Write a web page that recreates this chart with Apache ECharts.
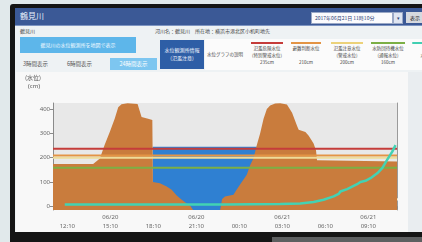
<!DOCTYPE html>
<html>
<head>
<meta charset="utf-8">
<script src="https://cdn.jsdelivr.net/npm/echarts@6/dist/echarts.min.js"></script>
<style>
html,body{margin:0;padding:0;width:422px;height:242px;overflow:hidden;background:#e1e9eb;font-family:"Noto Sans CJK JP","Noto Sans",sans-serif;}
.a{position:absolute;white-space:nowrap;}
#bezel{left:10px;top:4px;width:440px;height:260px;background:#151515;border-radius:3px;}
#screen{left:15px;top:8px;width:420px;height:224px;background:#eef2f4;overflow:hidden;}
#head{left:0;top:0;width:420px;height:17px;background:#3b5996;border-bottom:1px solid #7e95c2;}
#title{left:5px;top:2px;font-size:8px;color:#e8eefa;line-height:12px;}
#date{left:296px;top:4px;width:80px;height:10px;background:#fbfbfd;border:1px solid #9aa8c6;font-size:5px;line-height:10px;color:#2d3f74;text-indent:3px;}
#drop{left:378px;top:4px;width:8px;height:10px;background:#dfe5f1;border:1px solid #9aa8c6;font-size:5px;line-height:10px;text-align:center;color:#2d3f74;}
#go{left:391px;top:4px;width:30px;height:11px;background:#d6d9df;font-size:5px;line-height:11px;color:#222;text-indent:4px;}
.small{font-size:5px;line-height:6px;color:#444;}
#mapbtn{left:5px;top:29px;width:116px;height:16px;background:#5db6ea;color:#f2faff;font-size:5px;line-height:16px;text-align:center;}
.tab{top:50px;height:12px;font-size:5.5px;line-height:12px;color:#555;}
#tab3{left:95px;width:47px;background:#7dc6f0;color:#fff;text-align:center;}
#info{left:145px;top:32px;width:44px;height:29px;background:#2e5ea6;color:#f4f7ff;font-size:5px;line-height:8px;text-align:center;padding-top:6px;box-sizing:border-box;}
#legend{left:190px;top:31px;width:232px;height:31px;background:#fbfbfb;}
.lg{position:absolute;top:3px;text-align:center;font-size:4.5px;line-height:7px;color:#444;}
.lg i{display:block;height:2px;margin:0 2px 1px 2px;}
#panel{left:1px;top:64px;width:392px;height:160px;background:#f8f8f8;}
#side{left:393px;top:64px;width:30px;height:160px;background:#e9edf0;}
#chart{left:1px;top:64px;width:392px;height:159px;}
#stand{left:272px;top:237px;width:150px;height:5px;background:#5d5f60;}
</style>
</head>
<body>
<div class="a" id="bezel"></div>
<div class="a" id="stand"></div>
<div class="a" id="screen">
  <div class="a" id="head"></div>
  <div class="a" id="title">鶴見川</div>
  <div class="a" id="date">2017年06月21日 11時10分</div>
  <div class="a" id="drop">▾</div>
  <div class="a" id="go">表示</div>
  <div class="a small" style="left:5px;top:20px;">鶴見川</div>
  <div class="a small" style="left:140px;top:20px;">河川名：鶴見川　所在地：横浜市港北区小机町地先</div>
  <div class="a" id="mapbtn">鶴見川の水位観測所を地図で表示</div>
  <div class="a tab" style="left:8px;">3時間表示</div>
  <div class="a tab" style="left:52px;">6時間表示</div>
  <div class="a tab" id="tab3">24時間表示</div>
  <div class="a" id="info">水位観測所情報<br>(氾濫注意)</div>
  <div class="a" id="legend">
    <div class="lg" style="left:2px;top:12px;width:36px;">水位グラフの説明</div>
    <div class="lg" style="left:44px;width:36px;"><i style="background:#c53c3a"></i>氾濫危険水位<br>(特別警戒水位)<br>235cm</div>
    <div class="lg" style="left:84px;width:34px;"><i style="background:#e39445"></i>避難判断水位<br>&nbsp;<br>210cm</div>
    <div class="lg" style="left:124px;width:36px;"><i style="background:#ecd27a"></i>氾濫注意水位<br>(警戒水位)<br>200cm</div>
    <div class="lg" style="left:164px;width:38px;"><i style="background:#7caf45"></i>水防団待機水位<br>(通報水位)<br>160cm</div>
    <div class="lg" style="left:205px;width:30px;"><i style="background:#41cfb2;border-radius:2px;"></i>&nbsp;<br>水位</div>
  </div>
  <div class="a" id="side"></div>
  <div class="a" id="panel"></div>
  <div class="a" id="chart"></div>
</div>
<script>
// hours counted from 06/20 11:10
var xTickHours = [1, 4, 7, 10, 13, 16, 19, 22];
var xTickLabels = ['\n12:10', '06/20\n15:10', '\n18:10', '06/20\n21:10', '\n00:10', '06/21\n03:10', '\n06:10', '06/21\n09:10'];
var yTickValues = [0, 100, 200, 300, 400];

// brown area
var groundHours = [0, 2.8, 2.9, 3.27, 3.6, 3.96, 4.31, 4.55, 4.78, 5.2, 5.9, 6.18, 6.76, 6.93, 6.97, 7.46, 7.93, 8.28, 8.63, 8.98, 9.33, 9.6, 9.77,
  11.66, 11.8, 12.0, 12.59, 12.83, 13.17, 13.52, 13.76, 13.99, 14.22, 14.45, 14.69, 14.92, 15.15, 15.5, 15.85, 16.32, 16.68, 17.03, 17.14,
  17.61, 17.84, 18.18, 18.35, 18.42, 18.5, 24];
var groundLevels = [174, 174, 180, 197, 252, 306, 361, 408, 420, 424, 421, 367, 358, 355, 100, 95, 82, 68, 45, 27, 12, 0, -15,
  -15, 30, 41, 48, 70, 100, 130, 170, 198, 252, 300, 360, 400, 415, 423, 424, 419, 385, 330, 315,
  306, 290, 258, 230, 190, 184, 184];

// blue area
var poolHours = [6.95, 14.3];
var poolLevels = [245, 245];

// cyan line
var waterHours = [0.82, 6, 12, 15.85, 17.25, 18.18, 18.88, 19.58, 19.93, 20.05, 20.52, 21.22, 21.45, 21.8, 22.15, 22.62, 22.97, 23.31, 23.66, 23.9];
var waterLevels = [8, 8, 8, 10, 12, 18, 27, 41, 51, 61, 71, 91, 100, 105, 116, 136, 157, 191, 224, 252];

// reference levels
var levelNames = ['氾濫危険水位', '避難判断水位', '氾濫注意水位', '水防団待機水位'];
var levelValues = [237, 209, 200, 159];
var levelColors = ['#c53c3a', '#e39445', '#eedc9a', '#7caf45'];
var bandRange = [174, 207];

function zip(xs, ys){
    var out = [];
    for(var i = 0; i < xs.length; i++){
        out.push([xs[i], ys[i]]);
    }
    return out;
}

var chart = echarts.init(document.getElementById('chart'));

var series = [
    {
        type: 'line', stack: 'band', silent: true, symbol: 'none',
        data: [[0, bandRange[0]], [24, bandRange[0]]],
        lineStyle: {opacity: 0}
    },
    {
        type: 'line', stack: 'band', silent: true, symbol: 'none',
        data: [[0, bandRange[1] - bandRange[0]], [24, bandRange[1] - bandRange[0]]],
        lineStyle: {opacity: 0},
        areaStyle: {color: '#f8f0d8', opacity: 1}
    },
    {
        type: 'line', silent: true, symbol: 'none',
        data: zip(poolHours, poolLevels),
        lineStyle: {width: 0},
        areaStyle: {color: '#2f80d2', opacity: 1, origin: 'start'}
    },
    {
        type: 'line', silent: true, symbol: 'none',
        data: zip(groundHours, groundLevels),
        lineStyle: {width: 0},
        areaStyle: {color: '#c97c3d', opacity: 1, origin: 'start'}
    }
];

for(var i = 0; i < levelValues.length; i++){
    series.push({
        name: levelNames[i], type: 'line', silent: true, symbol: 'none',
        data: [[0, levelValues[i]], [24, levelValues[i]]],
        lineStyle: {color: levelColors[i], width: 2}
    });
}

series.push({
    name: '水位', type: 'line', silent: true, symbol: 'none',
    data: zip(waterHours, waterLevels),
    lineStyle: {color: '#43d2b3', width: 2.5}
});

var labelFont = {color: '#666', fontSize: 6, fontFamily: 'Noto Sans'};

chart.setOption({
    animation: false,
    grid: {left: 37, right: 11, top: 31, bottom: 21, show: true, backgroundColor: '#e8e8e8', borderWidth: 0},
    graphic: [
        {type: 'text', left: 9, top: 3, style: {text: '(水位)', fill: '#555', fontSize: 6, fontFamily: 'Noto Sans CJK JP'}},
        {type: 'text', left: 12, top: 11, style: {text: '(cm)', fill: '#555', fontSize: 6, fontFamily: 'Noto Sans'}}
    ],
    xAxis: {
        type: 'value', min: 0, max: 24, interval: 1,
        axisLine: {lineStyle: {color: '#8a8a8a'}},
        axisTick: {length: 3, lineStyle: {color: '#8a8a8a'}},
        splitLine: {show: false},
        axisLabel: Object.assign({
            customValues: xTickHours, margin: 3, lineHeight: 9,
            formatter: function(v){
                var k = xTickHours.indexOf(v);
                return k < 0 ? '' : xTickLabels[k];
            }
        }, labelFont)
    },
    yAxis: [
        {
            type: 'value', min: -15, max: 425,
            axisLine: {show: true, lineStyle: {color: '#8a8a8a'}},
            axisTick: {show: true, length: 3, customValues: yTickValues, lineStyle: {color: '#8a8a8a'}},
            axisLabel: Object.assign({customValues: yTickValues, margin: 3}, labelFont),
            splitLine: {show: false}
        },
        {
            type: 'value', min: -15, max: 425, position: 'right',
            axisLine: {show: true, lineStyle: {color: '#9a9a9a'}},
            axisTick: {show: false}, axisLabel: {show: false}, splitLine: {show: false}
        }
    ],
    series: series
});
</script>
</body>
</html>
